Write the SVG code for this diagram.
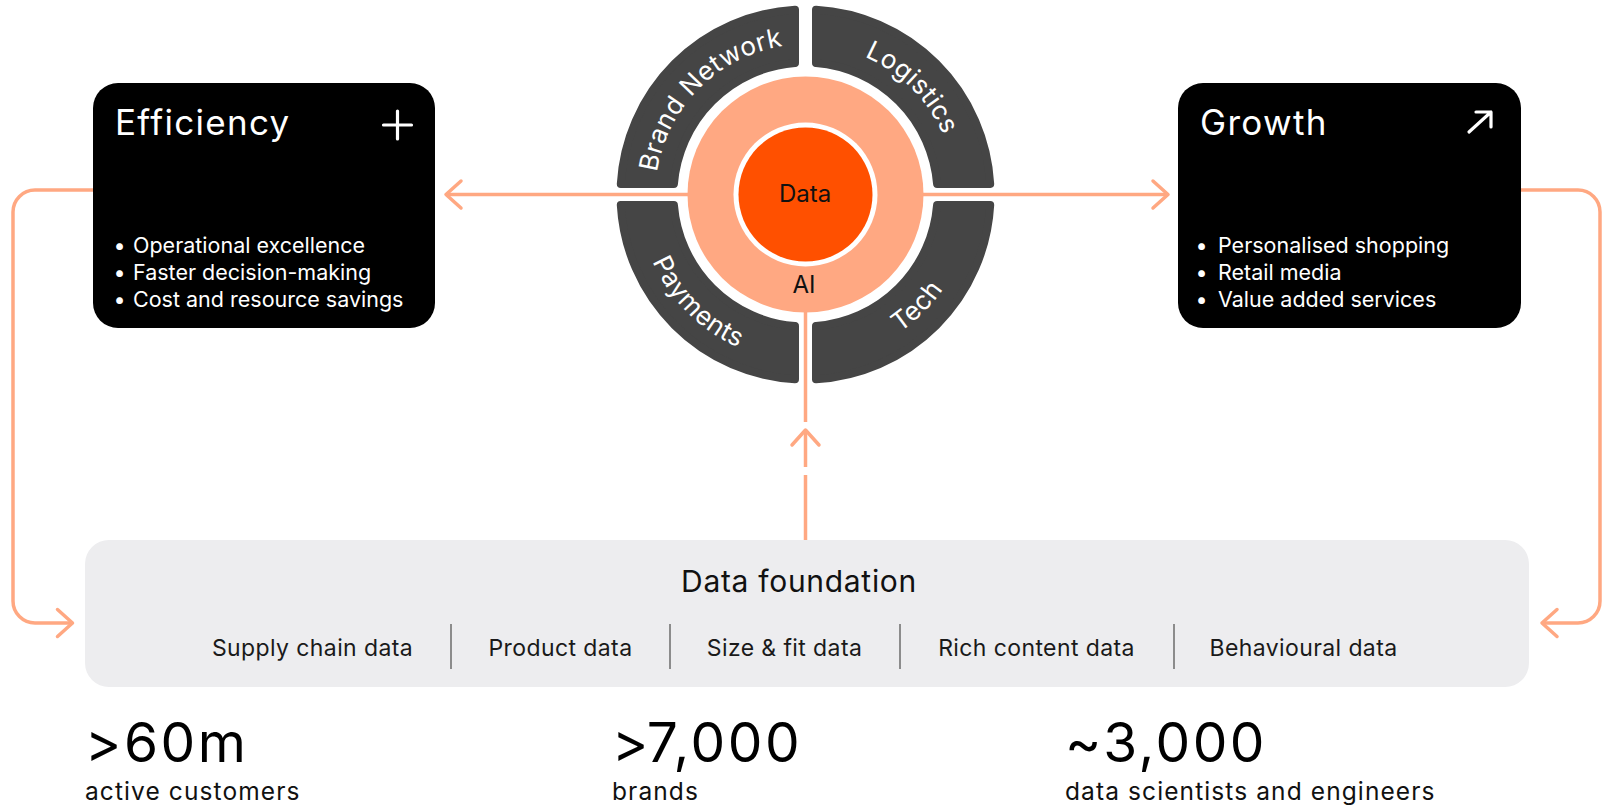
<svg xmlns="http://www.w3.org/2000/svg" width="1613" height="811" viewBox="0 0 1613 811">
  <style>
    text { font-family: Inter, "Liberation Sans", sans-serif; }
    .conn { fill: none; stroke: #FFA882; stroke-width: 3.5; }
    .card { fill: #000000; }
    .title { fill: #ffffff; font-size: 35px; letter-spacing: 1.3px; }
    .bullet { fill: #ffffff; font-size: 21.5px; }
    .icon { fill: none; stroke: #ffffff; stroke-width: 3.2; stroke-linecap: round; stroke-linejoin: round; }
    .seg { fill: #454545; stroke: #454545; stroke-width: 8; stroke-linejoin: round; }
    .ringlabel { fill: #ffffff; font-size: 26px; letter-spacing: 0.5px; }
    .core { fill: #111111; font-size: 24px; }
    .heading { fill: #111111; font-size: 30px; letter-spacing: 0.7px; }
    .item { fill: #1a1a1a; font-size: 23px; letter-spacing: 0.4px; }
    .divider { stroke: #6b6b6b; stroke-width: 1.5; }
    .big { fill: #000000; font-size: 55px; letter-spacing: 2.5px; }
    .caption { fill: #111111; font-size: 24.5px; letter-spacing: 1.1px; }
  </style>
  <defs>
    <marker id="chev" markerUnits="userSpaceOnUse" markerWidth="22" markerHeight="34" viewBox="-18 -17 22 34" refX="0" refY="0" orient="auto">
      <path d="M-15,-13.5 L0,0 L-15,13.5" fill="none" stroke="#FFA882" stroke-width="3.5" stroke-linecap="round" stroke-linejoin="round"/>
    </marker>
    <!-- arcs that carry the labels of the outer ring -->
    <path id="arc-brand" d="M655.5,194.5 A150,150 0 0 1 805.5,44.5"/>
    <path id="arc-logistics" d="M805.5,44.5 A150,150 0 0 1 955.5,194.5"/>
    <path id="arc-payments" d="M638.5,194.5 A167,167 0 0 0 805.5,361.5"/>
    <path id="arc-tech" d="M805.5,361.5 A167,167 0 0 0 972.5,194.5"/>
  </defs>

  <rect width="1613" height="811" fill="#ffffff"/>

  <!-- connectors -->
  <g id="connectors">
    <path class="conn" d="M700,194.5 H446" marker-end="url(#chev)"/>
    <path class="conn" d="M910,194.5 H1168" marker-end="url(#chev)"/>
    <path class="conn" d="M100,190 H35 A22,22 0 0 0 13,212 V601 A22,22 0 0 0 35,623 H72.5" marker-end="url(#chev)"/>
    <path class="conn" d="M1514,190 H1578 A22,22 0 0 1 1600,212 V601 A22,22 0 0 1 1578,623 H1542" marker-end="url(#chev)"/>
    <path class="conn" d="M805.5,545 V475"/>
    <path class="conn" d="M805.5,467 V430" marker-end="url(#chev)"/>
    <path class="conn" d="M805.5,422 V300"/>
  </g>

  <!-- Efficiency card -->
  <g id="efficiency">
    <rect class="card" x="93" y="83" width="342" height="245" rx="25"/>
    <text class="title" x="115" y="135">Efficiency</text>
    <path class="icon" d="M397.5,111 V139 M383.5,125 H411.5"/>
    <g class="bullet">
      <text x="119.5" y="253" text-anchor="middle">•</text>
      <text x="133" y="253">Operational excellence</text>
      <text x="119.5" y="280" text-anchor="middle">•</text>
      <text x="133" y="280">Faster decision-making</text>
      <text x="119.5" y="307" text-anchor="middle">•</text>
      <text x="133" y="307">Cost and resource savings</text>
    </g>
  </g>

  <!-- Growth card -->
  <g id="growth">
    <rect class="card" x="1178" y="83" width="343" height="245" rx="25"/>
    <text class="title" x="1200" y="135">Growth</text>
    <path class="icon" d="M1469,132 L1491,112 M1476,112 H1491 V127"/>
    <g class="bullet">
      <text x="1201.5" y="253" text-anchor="middle">•</text>
      <text x="1218" y="253">Personalised shopping</text>
      <text x="1201.5" y="280" text-anchor="middle">•</text>
      <text x="1218" y="280">Retail media</text>
      <text x="1201.5" y="307" text-anchor="middle">•</text>
      <text x="1218" y="307">Value added services</text>
    </g>
  </g>

  <!-- central hub: capability ring, AI ring, data core -->
  <g id="hub">
    <path class="seg" d="M620.80,184 A185,185 0 0 1 795,9.80 L795,62.92 A132,132 0 0 0 673.92,184 Z"/>
    <path class="seg" d="M816,9.80 A185,185 0 0 1 990.20,184 L937.08,184 A132,132 0 0 0 816,62.92 Z"/>
    <path class="seg" d="M795,379.20 A185,185 0 0 1 620.80,205 L673.92,205 A132,132 0 0 0 795,326.08 Z"/>
    <path class="seg" d="M990.20,205 A185,185 0 0 1 816,379.20 L816,326.08 A132,132 0 0 0 937.08,205 Z"/>
    <text class="ringlabel"><textPath href="#arc-brand" startOffset="50%" text-anchor="middle">Brand Network</textPath></text>
    <text class="ringlabel"><textPath href="#arc-logistics" startOffset="50%" text-anchor="middle">Logistics</textPath></text>
    <text class="ringlabel"><textPath href="#arc-payments" startOffset="50%" text-anchor="middle">Payments</textPath></text>
    <text class="ringlabel"><textPath href="#arc-tech" startOffset="50%" text-anchor="middle">Tech</textPath></text>
    <circle cx="805.5" cy="194.5" r="118" fill="#FFA882"/>
    <circle cx="805.5" cy="194.5" r="72" fill="#ffffff"/>
    <circle cx="805.5" cy="194.5" r="67" fill="#FF5000"/>
    <text class="core" x="805" y="202" text-anchor="middle">Data</text>
    <text class="core" x="804" y="293" text-anchor="middle">AI</text>
  </g>

  <!-- Data foundation panel -->
  <g id="data-foundation">
    <rect x="85" y="540" width="1444" height="147" rx="24" fill="#EDEDEF"/>
    <text class="heading" x="799" y="592" text-anchor="middle">Data foundation</text>
    <g class="item" text-anchor="middle">
      <text x="312.5" y="656">Supply chain data</text>
      <text x="560.5" y="656">Product data</text>
      <text x="784.5" y="656">Size &amp; fit data</text>
      <text x="1036.5" y="656">Rich content data</text>
      <text x="1303.5" y="656">Behavioural data</text>
    </g>
    <g class="divider">
      <line x1="451" y1="624" x2="451" y2="669"/>
      <line x1="670" y1="624" x2="670" y2="669"/>
      <line x1="900" y1="624" x2="900" y2="669"/>
      <line x1="1174" y1="624" x2="1174" y2="669"/>
    </g>
  </g>

  <!-- headline figures -->
  <g id="stat-customers">
    <text class="big" x="85" y="762">&gt;60m</text>
    <text class="caption" x="85" y="800">active customers</text>
  </g>
  <g id="stat-brands">
    <text class="big" x="612" y="762">&gt;7,000</text>
    <text class="caption" x="612" y="800">brands</text>
  </g>
  <g id="stat-engineers">
    <text class="big" x="1065" y="762">~3,000</text>
    <text class="caption" x="1065" y="800">data scientists and engineers</text>
  </g>
</svg>
